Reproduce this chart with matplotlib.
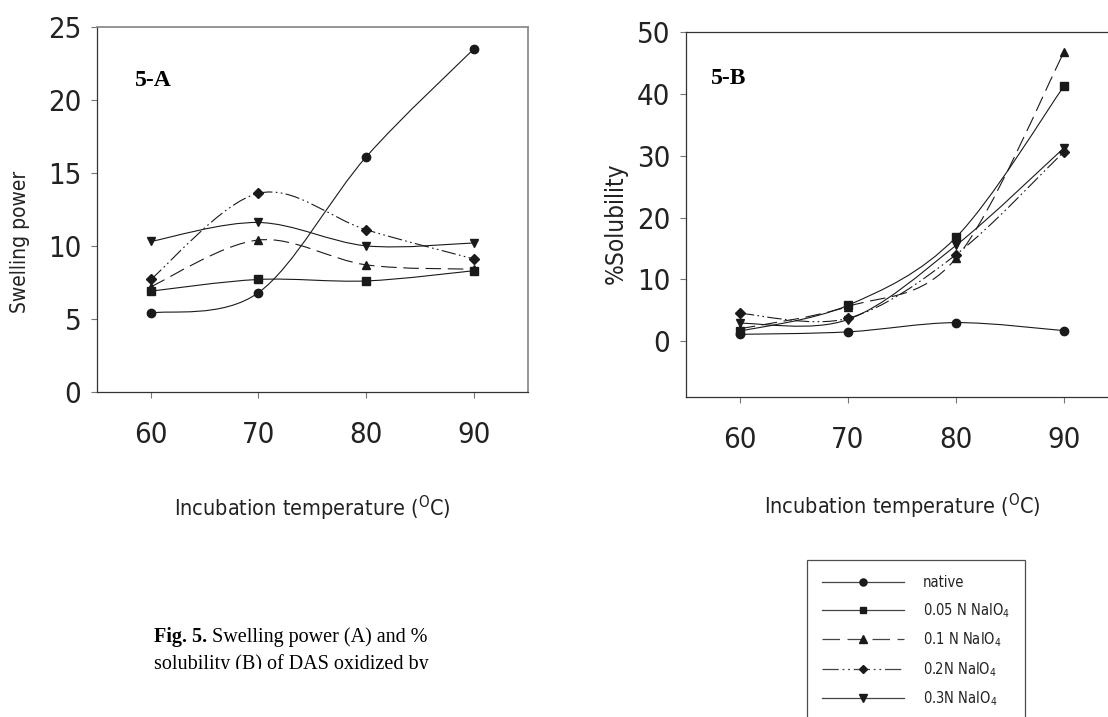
import matplotlib
matplotlib.use("Agg")
import matplotlib.pyplot as plt
from matplotlib import font_manager as fm
from matplotlib.path import Path
from matplotlib.patches import PathPatch, Rectangle
from matplotlib.lines import Line2D
from matplotlib.text import Annotation
import numpy as np

# --- data ---
temps = [60, 70, 80, 90]

labels = ["native", "0.05 N NaIO$_4$", "0.1 N NaIO$_4$", "0.2N NaIO$_4$", "0.3N NaIO$_4$"]

swell_native = [5.4, 6.8, 16.1, 23.5]
swell_005 = [6.9, 7.7, 7.6, 8.3]
swell_01 = [7.2, 10.4, 8.7, 8.4]
swell_02 = [7.7, 13.6, 11.1, 9.1]
swell_03 = [10.3, 11.6, 10.0, 10.2]

solub_native = [1.1, 1.5, 3.0, 1.7]
solub_005 = [1.6, 5.8, 16.8, 41.3]
solub_01 = [2.0, 5.6, 13.4, 46.8]
solub_02 = [4.5, 3.7, 14.0, 30.7]
solub_03 = [2.9, 3.5, 15.5, 31.3]

swelling = [swell_native, swell_005, swell_01, swell_02, swell_03]
solubility = [solub_native, solub_005, solub_01, solub_02, solub_03]

markers = ["o", "s", "^", "D", "v"]
msizes = [6, 5.5, 6, 5, 6]
styles = ["-", "-", (0, (14, 6)), (0, (13, 3, 1.5, 3, 1.5, 3)), "-"]


def pick_sans():
    # the original uses a narrow sans; take a condensed face if one is there
    have = {(f.name, f.stretch) for f in fm.fontManager.ttflist}
    for name, stretch in [("DejaVu Sans", "condensed"),
                          ("Liberation Sans Narrow", "condensed"),
                          ("Liberation Sans Narrow", "normal"),
                          ("Archivo Narrow", "condensed"),
                          ("Asap Condensed", "condensed")]:
        if (name, stretch) in have:
            return name, stretch
    return "Liberation Sans", "normal"


sans_name, sans_stretch = pick_sans()
SANS = [sans_name, "DejaVu Sans"]
SERIF = ["Liberation Serif", "DejaVu Serif"]

plt.rcParams["font.family"] = SANS
plt.rcParams["font.stretch"] = sans_stretch
plt.rcParams["mathtext.default"] = "regular"


def smooth_path(xs, ys):
    # Excel-like smoothed line (Catmull-Rom as cubic Bezier)
    pts = np.column_stack([xs, ys]).astype(float)
    n = len(pts)
    verts = [pts[0]]
    codes = [Path.MOVETO]
    for i in range(n - 1):
        p0 = pts[max(i - 1, 0)]
        p1 = pts[i]
        p2 = pts[i + 1]
        p3 = pts[min(i + 2, n - 1)]
        verts += [p1 + (p2 - p0) / 6, p2 - (p3 - p1) / 6, p2]
        codes += [Path.CURVE4] * 3
    return Path(verts, codes)


def draw_panel(ax, data, ylim, yticks, ylabel, ylab_size, tag, tag_pos, ylab_pos, xlab_y):
    for vals, m, ms, ls in zip(data, markers, msizes, styles):
        ax.add_patch(PathPatch(smooth_path(temps, vals), fill=False,
                               edgecolor="#1a1a1a", lw=0.8, linestyle=ls))
        ax.plot(temps, vals, linestyle="none", marker=m, markersize=ms,
                color="#1a1a1a", zorder=3)
    ax.set_xlim(55, 95)
    ax.set_ylim(*ylim)
    ax.set_xticks(temps)
    ax.set_yticks(yticks)
    ax.tick_params(axis="both", direction="out", length=4, width=0.8,
                   color="#777777", labelsize=21, labelcolor="#222222")
    ax.tick_params(axis="x", pad=17)
    ax.tick_params(axis="y", pad=7)
    for s in ["left", "bottom"]:
        ax.spines[s].set_color("#333333")
        ax.spines[s].set_linewidth(0.9)
    ax.set_ylabel(ylabel, fontsize=ylab_size, color="#222222", va="center")
    ax.yaxis.set_label_coords(*ylab_pos)
    ax.set_xlabel(r"Incubation temperature ($^{O}$C)", fontsize=15.5, color="#222222",
                  va="center")
    ax.xaxis.set_label_coords(0.5, xlab_y)
    ax.text(tag_pos[0], tag_pos[1], tag, transform=ax.transAxes, family=SERIF,
            fontweight="bold", fontsize=17, va="center", ha="left")


fig = plt.figure(figsize=(11.08, 7.17), dpi=100)
axA = fig.add_axes([0.0873, 0.4533, 0.3893, 0.5095])
axB = fig.add_axes([0.6189, 0.4467, 0.3902, 0.5082])

draw_panel(axA, swelling, (0, 25), range(0, 26, 5), "Swelling power", 15, "5-A",
           (0.089, 0.854), (-0.178, 0.41), -0.318)
for s in ["top", "right"]:
    axA.spines[s].set_color("#8c8c8c")
    axA.spines[s].set_linewidth(1.3)

draw_panel(axB, solubility, (-9, 50), range(0, 51, 10), "%Solubility", 17.5, "5-B",
           (0.0585, 0.872), (-0.161, 0.477), -0.30)
axB.spines["top"].set_color("#333333")
axB.spines["top"].set_linewidth(0.9)

# legend (its lower edge runs off the page, as in the source)
handles = [Line2D([], [], color="#444444", lw=0.9, linestyle=ls, marker=m,
                  markersize=ms * 0.85, markerfacecolor="#1a1a1a",
                  markeredgecolor="#1a1a1a")
           for m, ms, ls in zip(markers, msizes, styles)]
leg = fig.legend(handles, labels, loc="upper left",
                 bbox_to_anchor=(806.7 / 1108, 1 - 560 / 717),
                 fontsize=10.5, handlelength=5.6, handletextpad=1.3,
                 labelspacing=0.74, borderpad=1.05, borderaxespad=0,
                 frameon=True, fancybox=False, numpoints=1)
leg.get_frame().set_edgecolor("#222222")
leg.get_frame().set_linewidth(0.9)
for t in leg.get_texts():
    t.set_color("#222222")

# caption, second line cut off as in the source page
bold = fig.text(154 / 1108, 1 - 637 / 717, "Fig. 5.", family=SERIF,
                fontweight="bold", fontsize=14.5, va="center", ha="left")
rest = Annotation(" Swelling power (A) and %", xy=(1, 0), xycoords=bold,
                  va="bottom", ha="left", family=SERIF, fontsize=14.5)
fig.add_artist(rest)
fig.text(154 / 1108, 1 - 664 / 717, "solubility (B) of DAS oxidized by",
         family=SERIF, fontsize=14.5, va="center", ha="left")
fig.add_artist(Rectangle((0.05, 0), 0.4, 1 - 669 / 717, transform=fig.transFigure,
                         facecolor="white", edgecolor="none", zorder=10))

fig.savefig("out.png", dpi=100)
